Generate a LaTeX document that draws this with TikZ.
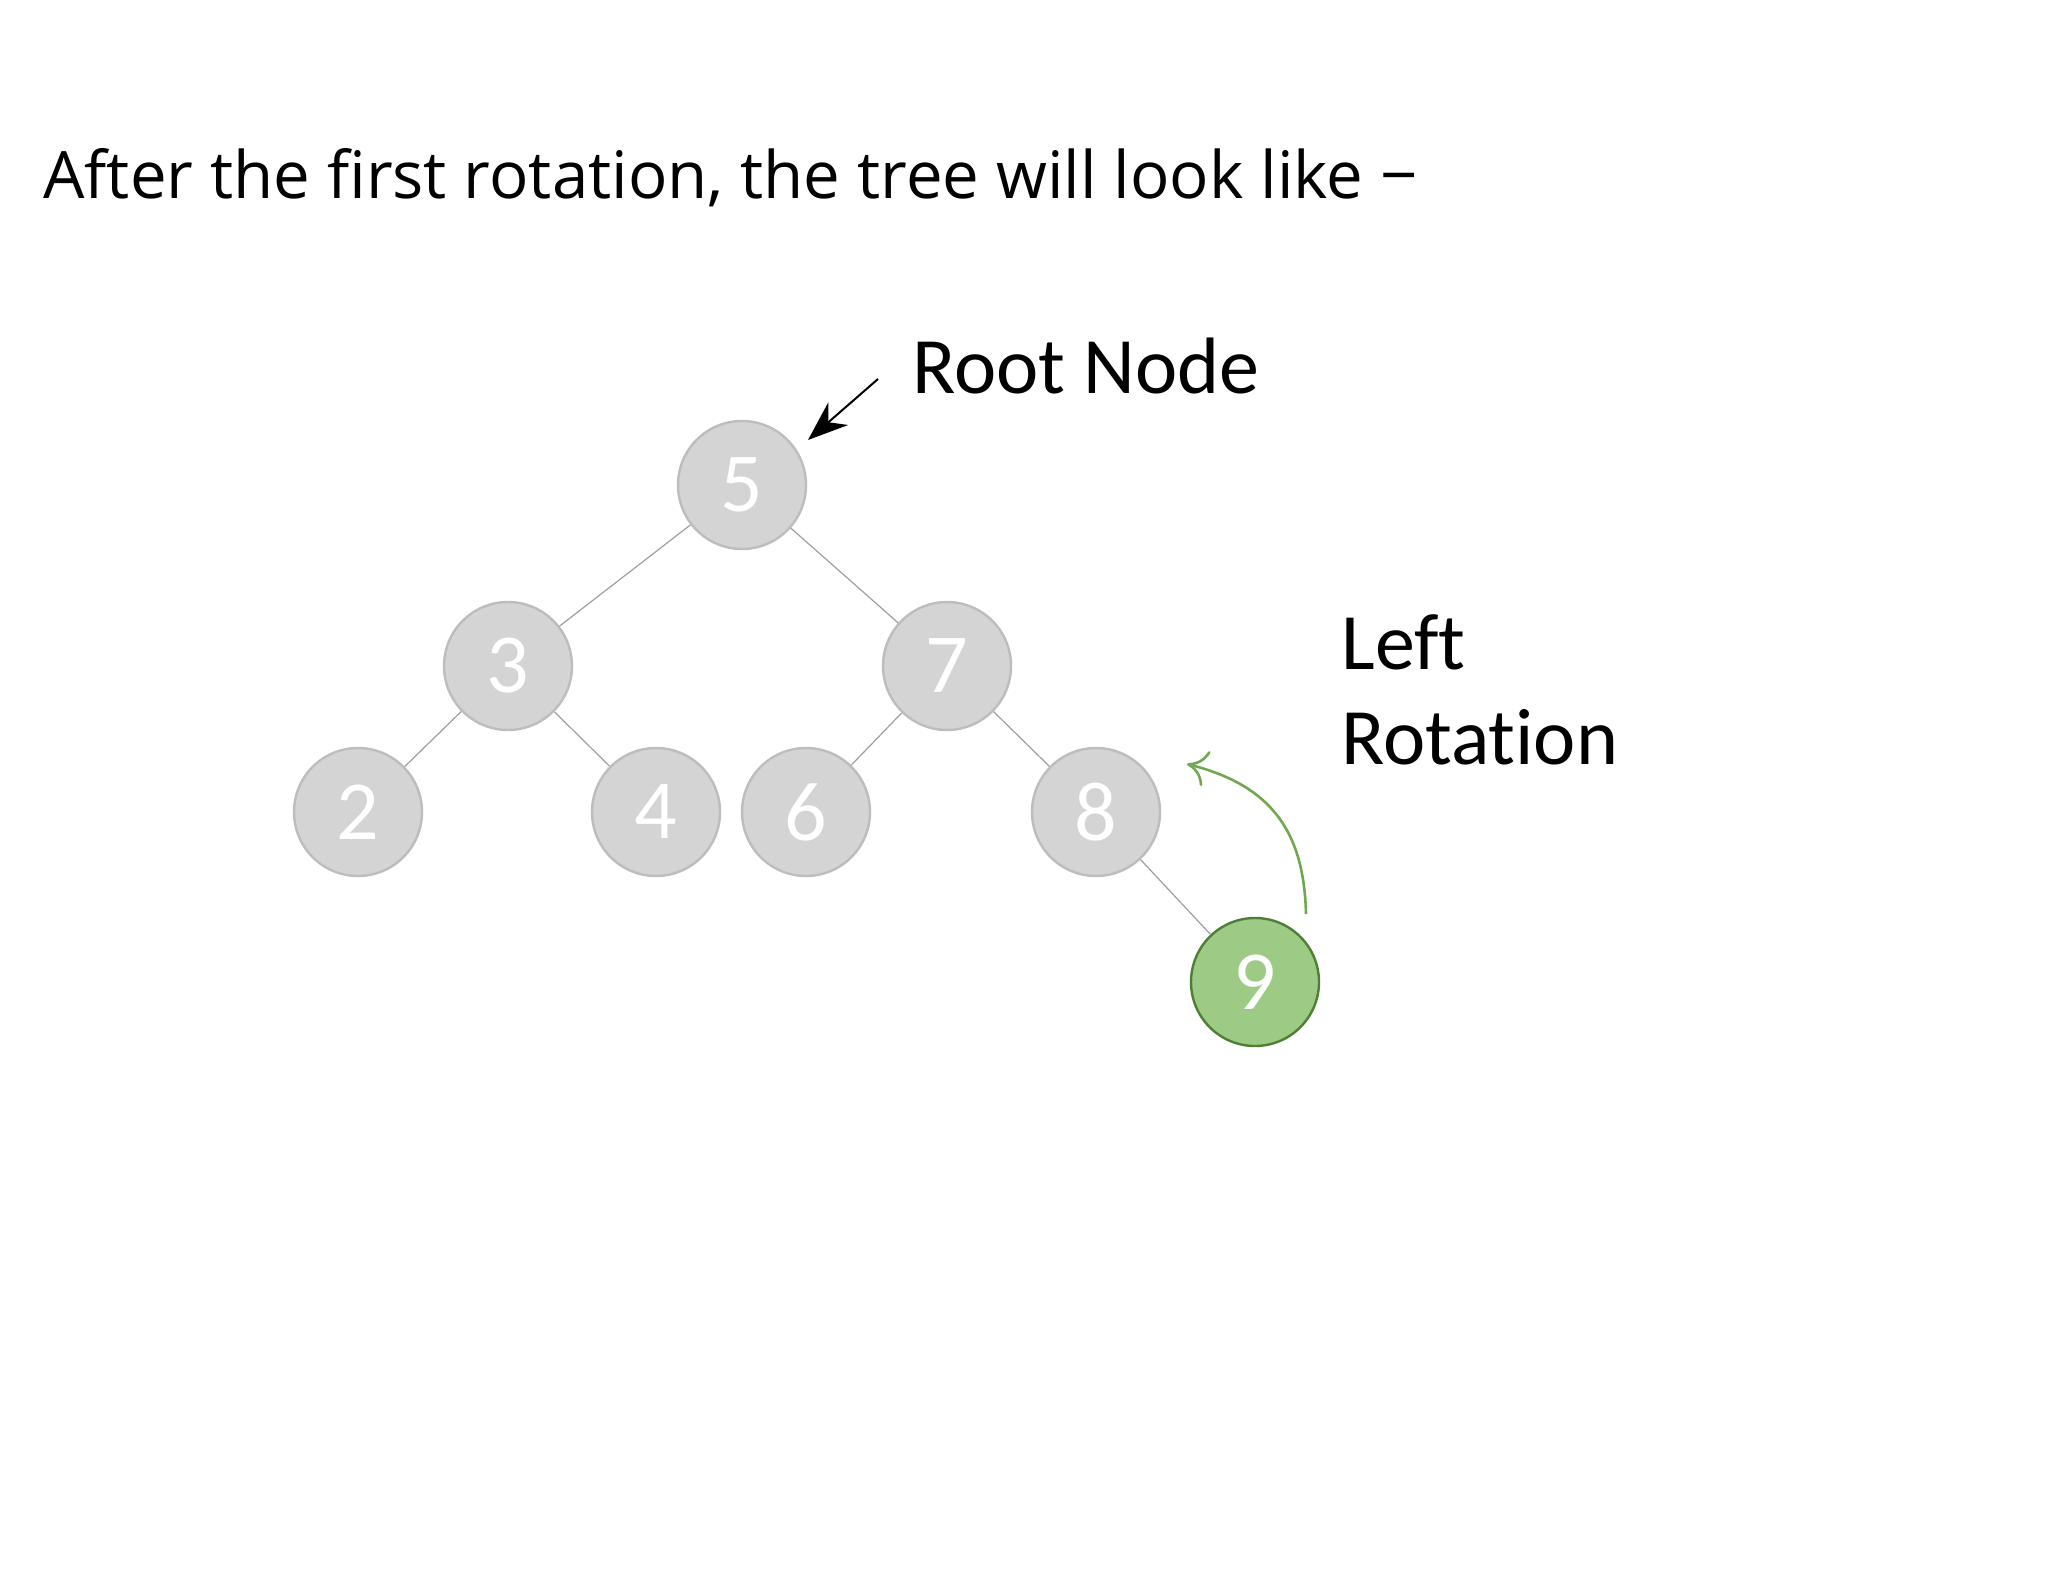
\documentclass[tikz,border=0pt]{standalone}
\usepackage{fontspec}
\setmainfont{Open Sans}
\newfontfamily\calfont[Ligatures=NoCommon,RawFeature=-liga]{Carlito}
\usepackage{tikz}
\usetikzlibrary{arrows.meta}

\definecolor{keygray}{HTML}{D4D4D4}
\definecolor{keyedge}{HTML}{BDBDBD}
\definecolor{linkgray}{HTML}{9E9E9E}
\definecolor{newfill}{HTML}{9DCB86}
\definecolor{newedge}{HTML}{4F7F35}
\definecolor{rotgreen}{HTML}{6FA84E}

\begin{document}
\begin{tikzpicture}[x=0.5pt,y=-0.5pt,
  key/.style={circle,draw=keyedge,line width=1.2pt,fill=keygray,minimum size=64pt,inner sep=0pt,text=white,font=\calfont\fontsize{42}{42}\selectfont},
  newkey/.style={key,fill=newfill,draw=newedge},
  link/.style={draw=linkgray,line width=0.6pt},
  label/.style={anchor=base west,inner sep=0pt,font=\calfont\fontsize{40}{48}\selectfont}]
\useasboundingbox (0,0) rectangle (2048,1582);
\node[anchor=base west,inner sep=0pt,font=\fontsize{32.7}{40}\selectfont] (title) at (43,199) {After the first rotation, the tree will look like −};
% the tree
\node[key] (n5) at (742,485) {5};
\node[key] (n3) at (508,666) {3};
\node[key] (n7) at (947,666) {7};
\node[key] (n2) at (358,812) {2};
\node[key] (n4) at (656,812) {4};
\node[key] (n6) at (806,812) {6};
\node[key] (n8) at (1096,812) {8};
\node[newkey] (n9) at (1255,982) {9};
\draw[link] (n5) -- (n3);
\draw[link] (n5) -- (n7);
\draw[link] (n3) -- (n2);
\draw[link] (n3) -- (n4);
\draw[link] (n7) -- (n6);
\draw[link] (n7) -- (n8);
\draw[link] (n8) -- (n9);
% labels
\node[label] (rootlbl) at (912,394) {Root Node};
\node[label] (left) at (1341,669) {Left};
\node[label] (rot) at (1341,764) {Rotation};
\coordinate (rootfrom) at (878,379);
\coordinate (rootto) at (808,440);
\draw[-{Stealth[length=20pt,width=15pt]},line width=1pt] (rootfrom) -- (rootto);
\coordinate (rotfrom) at (1306,914);
\coordinate (rotto) at (1187,764);
\draw[rotgreen,line width=1.3pt,-{To[length=10pt,width=18pt]}] (rotfrom) .. controls (1304,830) and (1270,785) .. (rotto);
\end{tikzpicture}
\end{document}
